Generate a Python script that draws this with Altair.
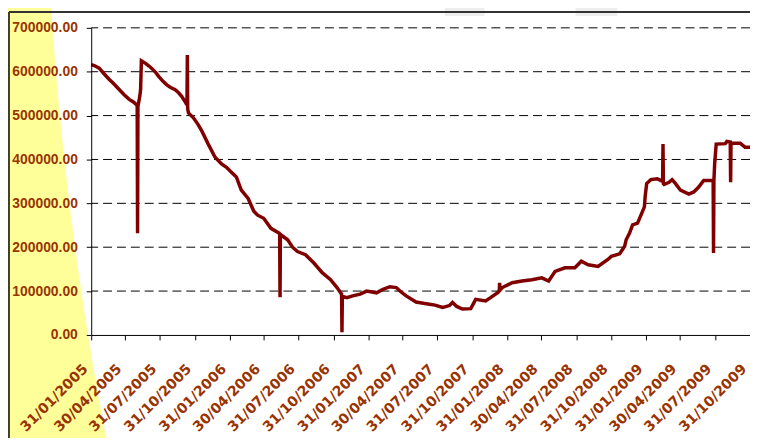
import altair as alt
import pandas as pd

dates = [
    "2005-01-31", "2005-02-08", "2005-02-21", "2005-03-05", "2005-03-19", "2005-04-01",
    "2005-04-14", "2005-04-27", "2005-05-11", "2005-05-22", "2005-05-31", "2005-06-01",
    "2005-06-02", "2005-06-03", "2005-06-08", "2005-06-10", "2005-06-12", "2005-06-23",
    "2005-07-02", "2005-07-10", "2005-07-20", "2005-07-28", "2005-08-08", "2005-08-18",
    "2005-08-28", "2005-09-09", "2005-09-18", "2005-09-26", "2005-10-07", "2005-10-10",
    "2005-10-11", "2005-10-12", "2005-10-14", "2005-10-27", "2005-11-08", "2005-11-18",
    "2005-12-05", "2005-12-23", "2006-01-09", "2006-01-22", "2006-02-04", "2006-02-17",
    "2006-03-02", "2006-03-20", "2006-04-04", "2006-04-14", "2006-04-30", "2006-05-19",
    "2006-06-10", "2006-06-11", "2006-06-12", "2006-06-13", "2006-07-02", "2006-07-15",
    "2006-07-28", "2006-08-18", "2006-09-09", "2006-10-01", "2006-10-23", "2006-11-09",
    "2006-11-21", "2006-11-22", "2006-11-23", "2006-12-05", "2006-12-20", "2007-01-09",
    "2007-01-26", "2007-02-21", "2007-03-10", "2007-03-28", "2007-04-14", "2007-04-25",
    "2007-05-10", "2007-06-05", "2007-06-20", "2007-07-10", "2007-07-25", "2007-08-14",
    "2007-09-01", "2007-09-09", "2007-09-20", "2007-10-05", "2007-10-27", "2007-11-09",
    "2007-12-05", "2007-12-18", "2008-01-05", "2008-01-10", "2008-01-11", "2008-01-12",
    "2008-01-18", "2008-02-13", "2008-03-10", "2008-04-05", "2008-05-01", "2008-05-19",
    "2008-06-05", "2008-07-01", "2008-07-27", "2008-08-13", "2008-08-31", "2008-09-26",
    "2008-10-22", "2008-10-31", "2008-11-22", "2008-12-05", "2008-12-09", "2008-12-18",
    "2008-12-26", "2009-01-08", "2009-01-17", "2009-01-26", "2009-01-28", "2009-02-01",
    "2009-02-12", "2009-03-01", "2009-03-15", "2009-03-16", "2009-03-17", "2009-03-19",
    "2009-04-01", "2009-04-09", "2009-04-18", "2009-05-01", "2009-05-23", "2009-06-05",
    "2009-06-18", "2009-07-01", "2009-07-18", "2009-07-26", "2009-07-27", "2009-07-28",
    "2009-07-30", "2009-08-03", "2009-08-27", "2009-08-31", "2009-09-09", "2009-09-10",
    "2009-09-11", "2009-10-05", "2009-10-18", "2009-10-31",
]
values = [
    616000, 614000, 608000, 596000, 583000, 572000,
    560000, 548000, 537000, 531000, 524000, 521000,
    232000, 521000, 545000, 560000, 625000, 619000,
    613000, 607000, 598000, 589000, 578000, 570000,
    564000, 559000, 552000, 544000, 529000, 524000,
    638000, 515000, 506000, 495000, 480000, 465000,
    435000, 405000, 390000, 382000, 371000, 360000,
    330000, 311000, 282000, 273000, 266000, 243000,
    232000, 230000, 86000, 229000, 217000, 200000,
    190000, 183000, 164000, 142000, 126000, 108000,
    93000, 6000, 88000, 85000, 89000, 93000,
    100000, 96000, 104000, 110000, 108000, 99000,
    89000, 75000, 73000, 70000, 68000, 62500,
    67000, 74000, 65000, 59000, 60000, 81000,
    77500, 85000, 96000, 100000, 119000, 102000,
    108000, 119000, 123000, 126000, 130000, 123000,
    145000, 153000, 153000, 168000, 160000, 156000,
    172000, 179000, 185000, 202000, 217000, 232000,
    251000, 255000, 273000, 292000, 315000, 345000,
    354000, 356000, 350000, 435000, 345000, 343000,
    348000, 354000, 345000, 330000, 321000, 326000,
    337000, 352000, 352000, 352000, 187000, 352000,
    390000, 435000, 436000, 441000, 440000, 348000,
    437000, 437000, 428000, 428000,
]

tick_dates = [
    "2005-01-31", "2005-04-30", "2005-07-31", "2005-10-31",
    "2006-01-31", "2006-04-30", "2006-07-31", "2006-10-31",
    "2007-01-31", "2007-04-30", "2007-07-31", "2007-10-31",
    "2008-01-31", "2008-04-30", "2008-07-31", "2008-10-31",
    "2009-01-31", "2009-04-30", "2009-07-31", "2009-10-31",
]
y_ticks = [0, 100000, 200000, 300000, 400000, 500000, 600000, 700000]

LABEL_COLOR = "#993300"
LINE_COLOR = "#800000"


def dt(s):
    return alt.DateTime(year=int(s[:4]), month=int(s[5:7]), date=int(s[8:10]), utc=True)


df = pd.DataFrame({"date": dates, "value": values})
grid_df = pd.DataFrame({"value": y_ticks[1:]})
one = pd.DataFrame({"k": [0]})

xscale = alt.Scale(type="utc", domain=[dt(tick_dates[0]), dt(tick_dates[-1])])
yscale = alt.Scale(domain=[0, 700000], nice=False, zero=True)

y_axis = alt.Axis(
    values=y_ticks,
    format=".2f",
    labelFont="Liberation Sans",
    labelFontWeight="bold",
    labelFontSize=14,
    labelColor=LABEL_COLOR,
    labelPadding=9,
    labelFlush=False,
    labelOverlap=False,
    tickSize=5,
    tickColor="black",
    domainColor="black",
    grid=False,
    zindex=1,
)

x_axis = alt.Axis(
    values=[dt(s) for s in tick_dates],
    labelExpr="utcFormat(datum.value, '%d/%m/%Y')",
    labelAngle=315,
    labelAlign="right",
    labelBaseline="middle",
    labelFont="DejaVu Sans",
    labelFontWeight="bold",
    labelFontSize=14.2,
    labelColor=LABEL_COLOR,
    labelPadding=27,
    labelOffset=-6,
    labelFlush=False,
    labelOverlap=False,
    labelBound=False,
    tickSize=5,
    tickColor="black",
    domainColor="black",
    grid=False,
    zindex=1,
)

yellow = alt.RadialGradient(
    gradient="radial",
    x1=7.992, y1=-0.4987, r1=0,
    x2=7.992, y2=-0.4987, r2=7.894,
    stops=[
        alt.GradientStop(color="rgba(255,255,153,0)", offset=0),
        alt.GradientStop(color="rgba(255,255,153,0)", offset=0.9997),
        alt.GradientStop(color="#FFFF99", offset=1),
    ],
)

bg = alt.Chart(one).mark_rect(fill=yellow, strokeWidth=0).encode(
    x=alt.value(-92), x2=alt.value(354), y=alt.value(-26), y2=alt.value(420)
)

box1 = alt.Chart(one).mark_rect(fill="#eeeeee").encode(
    x=alt.value(357), x2=alt.value(397), y=alt.value(-30), y2=alt.value(-12)
)
box2 = alt.Chart(one).mark_rect(fill="#eeeeee").encode(
    x=alt.value(489), x2=alt.value(531), y=alt.value(-30), y2=alt.value(-12)
)

grid = alt.Chart(grid_df).mark_rule(color="black", strokeDash=[9, 5], strokeWidth=1).encode(
    y=alt.Y("value:Q", scale=yscale, axis=y_axis, title=None)
)

line = alt.Chart(df).mark_line(color=LINE_COLOR, strokeWidth=3.5).encode(
    x=alt.X("date:T", scale=xscale, title=None, axis=x_axis),
    y=alt.Y("value:Q", scale=yscale, title=None, axis=y_axis),
)

frame_v = alt.Chart(one).mark_rule(color="black", strokeWidth=1.5).encode(
    x=alt.value(-83), y=alt.value(-16), y2=alt.value(420)
)
frame_h = alt.Chart(one).mark_rule(color="#333333", strokeWidth=2).encode(
    x=alt.value(-83), x2=alt.value(670), y=alt.value(-16)
)

chart = alt.layer(bg, box1, box2, grid, line, frame_v, frame_h).properties(
    width=665,
    height=310,
    autosize=alt.AutoSizeParams(type="none"),
    padding={"left": 84, "top": 18, "right": 0, "bottom": 102},
    background="white",
).configure_view(stroke=None)

chart.save("out.html", embed_options={"renderer": "svg", "actions": False})
